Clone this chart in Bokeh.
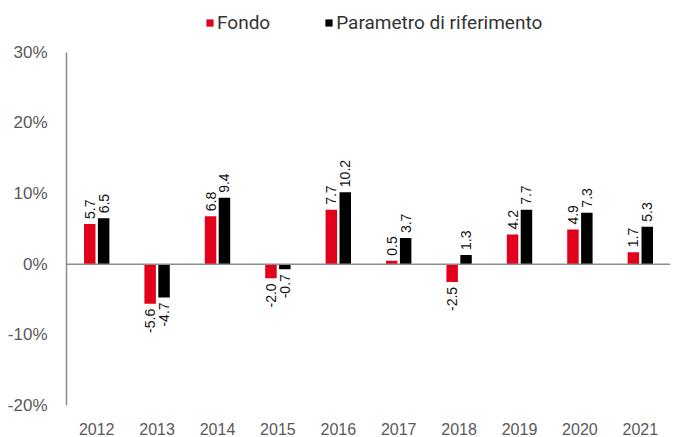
from bokeh.plotting import figure
from bokeh.models import ColumnDataSource, Range1d, Span, Legend, LegendItem, FixedTicker, PrintfTickFormatter
from bokeh.transform import dodge
from bokeh.embed import file_html
from bokeh.resources import INLINE
from bokeh.core.properties import value
import math

years = ["2012", "2013", "2014", "2015", "2016", "2017", "2018", "2019", "2020", "2021"]
fondo = [5.7, -5.6, 6.8, -2.0, 7.7, 0.5, -2.5, 4.2, 4.9, 1.7]
parametro = [6.5, -4.7, 9.4, -0.7, 10.2, 3.7, 1.3, 7.7, 7.3, 5.3]
y_ticks = [-20, -10, 0, 10, 20, 30]

RED = "#e2001a"
BLACK = "#000000"
GREY_TXT = "#595959"
GREY_LINE = "#8c8c8c"

def fmt(v):
    return f"{v:.1f}"

src = ColumnDataSource(dict(
    years=years, fondo=fondo, parametro=parametro,
    fondo_lbl=[fmt(v) for v in fondo], par_lbl=[fmt(v) for v in parametro],
    fondo_align=["left" if v >= 0 else "right" for v in fondo],
    par_align=["left" if v >= 0 else "right" for v in parametro],
    fondo_off=[-5 if v >= 0 else 5 for v in fondo],
    par_off=[-5 if v >= 0 else 5 for v in parametro],
))

# frame spans from the legend strip at the top down to -20%; the axis line is bounded to -20..30
p = figure(x_range=years, y_range=Range1d(-20, 36.2), width=674, height=437,
           output_backend="svg", toolbar_location=None,
           min_border_left=66, min_border_right=4, min_border_top=8, min_border_bottom=28)
p.outline_line_color = None
p.xgrid.grid_line_color = None
p.ygrid.grid_line_color = None
p.background_fill_color = "white"

off = 0.115
bw = 0.19
r1 = p.vbar(x=dodge("years", -off, range=p.x_range), top="fondo", bottom=0, width=bw,
            source=src, fill_color=RED, line_color=None)
r2 = p.vbar(x=dodge("years", off, range=p.x_range), top="parametro", bottom=0, width=bw,
            source=src, fill_color=BLACK, line_color=None)

for col, lbl, al, yo, d in [("fondo", "fondo_lbl", "fondo_align", "fondo_off", -off),
                            ("parametro", "par_lbl", "par_align", "par_off", off)]:
    p.text(x=dodge("years", d, range=p.x_range), y=col, text=lbl, source=src,
           angle=math.pi / 2, text_align=al, text_baseline="middle",
           x_offset=0, y_offset=yo,
           text_font=value("Liberation Sans"), text_font_size="14px", text_color="#111111")

zero = Span(location=0, dimension="width", line_color=GREY_LINE, line_width=1.5)
p.add_layout(zero)

p.yaxis.ticker = FixedTicker(ticks=y_ticks)
p.yaxis.bounds = (-20, 30)
p.yaxis.formatter = PrintfTickFormatter(format="%d%%")
p.yaxis.axis_line_color = GREY_LINE
p.yaxis.axis_line_width = 1.5
p.yaxis.major_tick_line_color = None
p.yaxis.minor_tick_line_color = None
p.yaxis.major_label_text_font = "Liberation Sans"
p.yaxis.major_label_text_font_size = "17px"
p.yaxis.major_label_text_color = GREY_TXT
p.yaxis.major_label_standoff = 13

p.xaxis.axis_line_color = None
p.xaxis.major_tick_line_color = None
p.xaxis.minor_tick_line_color = None
p.xaxis.major_label_text_font = "Liberation Sans"
p.xaxis.major_label_text_font_size = "16px"
p.xaxis.major_label_text_color = GREY_TXT
p.xaxis.major_label_standoff = 11

legend = Legend(items=[LegendItem(label="Fondo", renderers=[r1]),
                       LegendItem(label="Parametro di riferimento", renderers=[r2])],
                orientation="horizontal", location=(139, 371),
                glyph_width=9, glyph_height=9, label_standoff=3, spacing=54,
                label_text_font="Roboto", label_text_font_size="19px",
                label_text_color="#333333", border_line_color=None,
                background_fill_alpha=0, padding=0, margin=0)
p.add_layout(legend, "center")

open("out.html", "w").write(file_html(p, INLINE))
